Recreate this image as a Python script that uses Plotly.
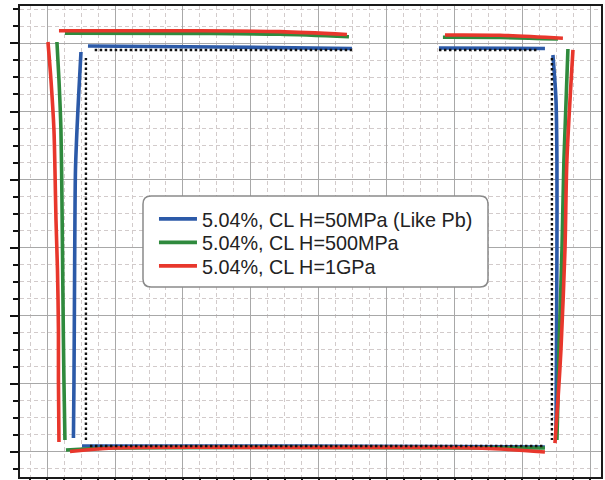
import plotly.graph_objects as go

# Deformed frame outlines (x, y in grid units); None separates the members
# left column / left beam / right beam / right column / floor
blue_x = [0.498, 0.468, 0.439, 0.417, 0.409, 0.402, 0.395, 0.387, None,
          0.601, 2.545, 4.489, None,
          5.770, 7.331, None,
          7.449, 7.494, 7.508, 7.508, 7.501, 7.494, None,
          0.513, 3.723, 7.331]
blue_y = [5.874, 5.316, 4.728, 4.140, 3.406, 2.230, 1.055, 0.203, None,
          5.963, 5.948, 5.926, None,
          5.933, 5.926, None,
          5.830, 5.169, 4.287, 2.965, 1.496, 0.173, None,
          0.085, 0.085, 0.071]

green_x = [0.144, 0.174, 0.203, 0.218, 0.233, 0.247, 0.262, None,
           0.262, 2.250, 3.429, 4.445, None,
           5.829, 6.669, 7.523, None,
           7.670, 7.611, 7.582, 7.538, 7.523, 7.508, None,
           0.277, 0.969, 7.331]
green_y = [6.021, 5.463, 4.728, 3.700, 2.230, 1.055, 0.173, None,
           6.149, 6.146, 6.136, 6.099, None,
           6.090, 6.087, 6.065, None,
           5.918, 4.287, 2.965, 1.496, 0.761, 0.173, None,
           0.026, 0.056, 0.056]

red_x = [0.012, 0.056, 0.100, 0.115, 0.130, 0.152, 0.166, 0.166, 0.174, None,
         0.174, 2.250, 3.429, 4.415, None,
         5.859, 6.669, 7.596, None,
         7.744, 7.655, 7.626, 7.567, 7.523, 7.479, None,
         0.336, 0.969, 3.723, 5.932, 6.669, 7.331]
red_y = [6.021, 5.463, 4.728, 4.140, 3.406, 2.671, 1.789, 1.055, 0.144, None,
         6.187, 6.187, 6.173, 6.131, None,
         6.124, 6.120, 6.076, None,
         5.904, 4.287, 2.965, 1.496, 0.761, 0.129, None,
         0.004, 0.056, 0.063, 0.063, 0.041, -0.003]

# Undeformed geometry
ref_x = [0.571, 0.571, None, 0.700, 4.489, None, 5.770, 7.228, None,
         7.434, 7.434, None, 0.630, 7.330]
ref_y = [0.173, 5.786, None, 5.904, 5.904, None, 5.904, 5.904, None,
         5.786, 0.173, None, 0.085, 0.085]

series_names = ["5.04%, CL H=50MPa (Like Pb)",
                "5.04%, CL H=500MPa",
                "5.04%, CL H=1GPa"]
series_colors = ["#2c5aa8", "#2f8a3d", "#e8372c"]
legend_ids = ["legend", "legend2", "legend3"]

fig = go.Figure()
for xs, ys, name, color, lg in zip([blue_x, green_x, red_x], [blue_y, green_y, red_y],
                                   series_names, series_colors, legend_ids):
    fig.add_trace(go.Scatter(x=xs, y=ys, mode="lines", name=name, legend=lg,
                             line=dict(color=color, width=3.6, shape="spline",
                                       smoothing=0.8),
                             connectgaps=False))
fig.add_trace(go.Scatter(x=ref_x, y=ref_y, mode="lines", showlegend=False,
                         line=dict(color="#111111", width=2.4, dash="2.5px,2.5px"),
                         connectgaps=False))

axis_common = dict(
    showticklabels=False, ticks="outside", ticklen=8, tickwidth=1.5,
    tickcolor="#111111", showgrid=True, gridcolor="#a8a8a8", gridwidth=1.4,
    showline=True, linecolor="#1a1a1a", linewidth=2, mirror=True,
    zeroline=False, dtick=1, tick0=0, automargin=False,
    minor=dict(dtick=0.25, tick0=0, ticks="outside", ticklen=5, tickwidth=1.5,
               tickcolor="#111111", showgrid=True, gridcolor="#d2cbcb",
               griddash="4px,3px", gridwidth=1),
)

# rounded legend frame (paper coordinates)
lx0, lx1, ly0, ly1 = 0.2117, 0.8055, 0.4034, 0.5966
rx, ry = 0.0138, 0.0170
legend_path = (f"M{lx0+rx},{ly0} L{lx1-rx},{ly0} Q{lx1},{ly0} {lx1},{ly0+ry} "
               f"L{lx1},{ly1-ry} Q{lx1},{ly1} {lx1-rx},{ly1} "
               f"L{lx0+rx},{ly1} Q{lx0},{ly1} {lx0},{ly1-ry} "
               f"L{lx0},{ly0+ry} Q{lx0},{ly0} {lx0+rx},{ly0} Z")

legend_style = dict(x=0.2306, xanchor="left", yanchor="middle",
                    bgcolor="rgba(0,0,0,0)", borderwidth=0, itemwidth=38,
                    font=dict(family="Liberation Sans", size=19.8, color="#222222"))

fig.update_layout(
    width=605, height=480,
    margin=dict(l=20, r=4, t=6, b=3, autoexpand=False),
    paper_bgcolor="white", plot_bgcolor="white",
    xaxis=dict(range=[-0.4, 8.157], **axis_common),
    yaxis=dict(range=[-0.37, 6.55], **axis_common),
    shapes=[dict(type="path", path=legend_path, xref="paper", yref="paper",
                 fillcolor="white", line=dict(color="#8a8a8a", width=1.5),
                 layer="above")],
    legend=dict(y=0.5478, **legend_style),
    legend2=dict(y=0.4979, **legend_style),
    legend3=dict(y=0.4480, **legend_style),
    showlegend=True,
)

fig.write_html("out.html")
